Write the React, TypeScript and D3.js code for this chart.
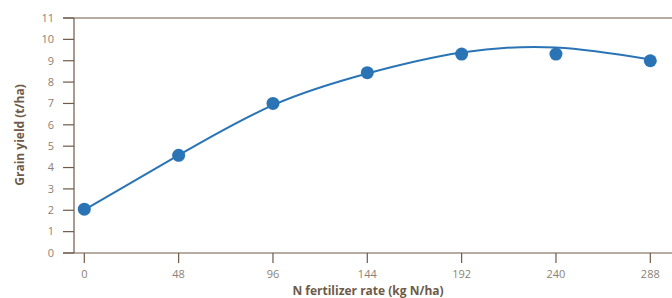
import React from "react";
import * as d3 from "d3";

const nRates = [0, 48, 96, 144, 192, 240, 288];
const yields = [2.05, 4.57, 7.0, 8.44, 9.31, 9.31, 9.0];
const trendRates = [0, 48, 96, 144, 192, 240, 288];
const trendYields = [2.02, 4.58, 6.92, 8.4, 9.38, 9.62, 9.06];
const yTicks = [0, 1, 2, 3, 4, 5, 6, 7, 8, 9, 10, 11];
const xTicks = [0, 48, 96, 144, 192, 240, 288];

const W = 672;
const H = 298;

export default function App() {
  const x = d3.scaleLinear().domain([0, 288]).range([84.3, 650.3]);
  const y = d3.scaleLinear().domain([0, 11]).range([253, 18]);
  const trend = trendRates.map((r, i) => [r, trendYields[i]] as [number, number]);
  const line = d3
    .line<[number, number]>()
    .x((d) => x(d[0]))
    .y((d) => y(d[1]))
    .curve(d3.curveNatural);
  const axisColor = "#6e5a48";
  const tickText = "#8c7f75";
  const titleColor = "#6e5a48";
  const blue = "#2a74b6";
  const font = "'Open Sans', 'DejaVu Sans', sans-serif";
  return (
    <svg
      width={W}
      height={H}
      style={{ position: "absolute", left: 0, top: 0, background: "#fff" }}
      fontFamily={font}
    >
      <line x1={74} x2={74} y1={18} y2={253} stroke={axisColor} strokeWidth={1.2} />
      <line x1={63} x2={672} y1={y(11)} y2={y(11)} stroke={axisColor} strokeWidth={1.2} />
      <line x1={63} x2={672} y1={y(0)} y2={y(0)} stroke={axisColor} strokeWidth={1.2} />
      {yTicks.map((t) => (
        <g key={"y" + t}>
          <line x1={63} x2={74} y1={y(t)} y2={y(t)} stroke={axisColor} strokeWidth={1.2} />
          <text x={54} y={y(t)} dy="0.35em" textAnchor="end" fontSize={11} fill={tickText}>
            {t}
          </text>
        </g>
      ))}
      {xTicks.map((t) => (
        <g key={"x" + t}>
          <line x1={x(t)} x2={x(t)} y1={253} y2={263} stroke={axisColor} strokeWidth={1.2} />
          <text x={x(t)} y={274} dy="0.35em" textAnchor="middle" fontSize={11} fill={tickText}>
            {t}
          </text>
        </g>
      ))}
      <text
        x={368}
        y={295}
        textAnchor="middle"
        fontSize={12}
        fontWeight="bold"
        fill={titleColor}
      >
        N fertilizer rate (kg N/ha)
      </text>
      <text
        transform={`translate(20,135) rotate(-90)`}
        dy="0.35em"
        textAnchor="middle"
        fontSize={12}
        fontWeight="bold"
        fill={titleColor}
      >
        Grain yield (t/ha)
      </text>
      <path d={line(trend) || ""} fill="none" stroke={blue} strokeWidth={2} />
      {nRates.map((n, i) => (
        <circle key={"p" + i} cx={x(n)} cy={y(yields[i])} r={6.5} fill={blue} />
      ))}
    </svg>
  );
}
